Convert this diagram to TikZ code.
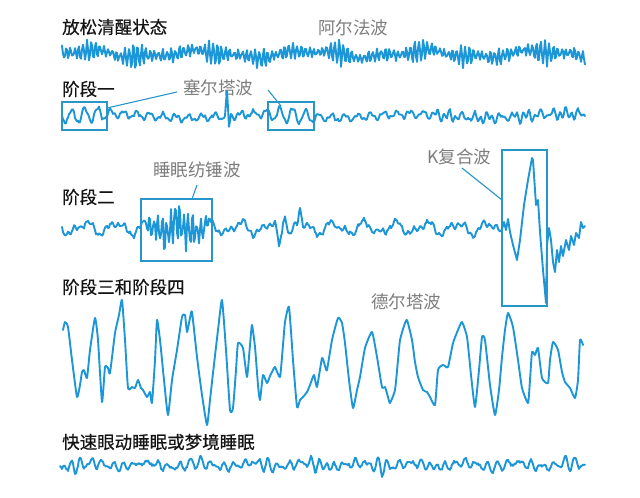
\documentclass[tikz,border=0pt]{standalone}
\usepackage{fontspec}
\newfontfamily\cjk{Noto Sans CJK SC}
\newfontfamily\cjkb{Noto Sans CJK SC}[FakeBold=0.5]
\usetikzlibrary{calc}
\definecolor{wave}{RGB}{28,150,214}
\definecolor{boxc}{RGB}{40,150,200}
\definecolor{anno}{RGB}{125,125,125}
\definecolor{lab}{RGB}{20,20,20}
\begin{document}
\begin{tikzpicture}[x=1pt,y=-1pt,
  declare function={
    sw(\tq,\pq)=sin(mod(\tq,\pq)*(360/\pq));
    bp(\tq,\cq,\wq)=max(0,1-((\tq-\cq)/\wq)^2);
    tri(\tq,\cq,\wq)=max(0,1-abs(\tq-\cq)/\wq);
  },
  stagelabel/.style={anchor=west,inner sep=0pt,text=lab,font=\cjkb\fontsize{17.5}{20}\selectfont},
  annolabel/.style={anchor=west,inner sep=0pt,text=anno,font=\cjk\fontsize{17.5}{20}\selectfont},
  trace/.style={draw=wave,line width=1.9pt,line join=round,line cap=round},
  wbox/.style={draw=boxc,line width=1.2pt,inner sep=0pt,rectangle},
  leader/.style={draw=boxc,line width=1.1pt}]
\path[use as bounding box] (0,0) rectangle (640,498);
\pgfmathsetseed{4711}

% labels
\node[stagelabel] (t0) at (62,27) {放松清醒状态};
\node[annolabel] (a0) at (318,28) {阿尔法波};
\node[stagelabel] (t1) at (62,89) {阶段一};
\node[annolabel] (a1) at (183,88) {塞尔塔波};
\node[stagelabel] (t2) at (62,197) {阶段二};
\node[annolabel] (a2) at (153,170) {睡眠纺锤波};
\node[annolabel] (a3) at (427,157) {K复合波};
\node[stagelabel] (t3) at (62,287) {阶段三和阶段四};
\node[annolabel] (a4) at (371,302) {德尔塔波};
\node[stagelabel] (t4) at (62,442) {快速眼动睡眠或梦境睡眠};

% alpha
\draw[trace] plot[domain=62:585,samples=524]
  (\x,{54+3*sw(\x,113)+1.5*sw(\x+30,47)+(3.5+9*(0.5+0.5*sw(\x,41))*(0.6+0.4*sw(\x+9,67)))*sw(\x,4.2)+1.5*sw(\x+2,2.9)+1.5*rand});

% stage 1
\draw[trace] plot[domain=62:585,samples=524]
  (\x,{116+2*sw(\x,150)+(3+4.5*bp(\x,85,30)+4.5*bp(\x,291,30))*sw(\x+3,13)+1.5*sw(\x,5.3)+3*max(0,min(1,(\x-410)/20))*sw(\x,6.1)+1*rand-20*tri(\x,227,2)+12*tri(\x,229,2)});

% stage 2
\draw[trace] plot[domain=62:502,samples=441]
  (\x,{228+5*sw(\x,31)+3*sw(\x+7,17)+2*sw(\x,6.3)+1.2*rand+16*bp(\x,177,36)*sw(\x,4.3)+6*bp(\x,177,36)*sw(\x+1,2.7)+18*tri(\x,279,4)-22*tri(\x,285,3)-16*tri(\x,300,3)})
  -- (504,222) -- (506,230) -- (508,219) -- (510,232) -- (513,245) -- (517,260) -- (520,240)
  -- (524,205) -- (528,180) -- (532,158) -- (533,160) -- (535,190) -- (536,205) -- (538,200)
  -- (540,232) -- (543,270) -- (546,303) -- (547,245) -- (549,228) -- (551,240) -- (553,262)
  -- (555,272) -- (557,250) -- (559,262) -- (561,246) -- (563,256) -- (566,240) -- (569,250)
  -- (571,236) -- (574,245) -- (576,233) -- (579,238) -- (581,222) -- (583,228) -- (585,226);

% stages 3 and 4 (delta)
\draw[trace] plot[smooth,tension=0.3] coordinates {
(63,330) (65,322) (68,327) (72,360) (77,397) (80,385) (82,372) (84,370) (87,378) (90,350)
(95,318) (98,340) (102,402) (105,367) (108,368) (110,373) (115,333) (119,315) (122,300)
(125,340) (128,388) (132,387) (135,388) (138,380) (141,388) (143,390) (147,397) (150,392)
(152,403) (155,360) (157,320) (160,340) (164,380) (168,415) (172,380) (177,350) (182,317)
(185,315) (187,332) (190,318) (192,312) (197,357) (202,395) (207,425) (210,400) (213,373)
(218,330) (222,300) (226,350) (230,410) (233,408) (236,370) (238,343) (243,348) (247,377)
(250,345) (252,325) (255,347) (258,385) (260,400) (263,375) (267,383) (270,376) (272,372)
(275,367) (280,377) (283,345) (285,322) (289,307) (293,360) (297,407) (300,400) (303,397)
(307,392) (310,385) (314,375) (317,387) (322,358) (325,366) (327,370) (332,340) (338,318)
(342,323) (345,343) (349,380) (353,408) (357,390) (360,377) (365,348) (372,332) (377,357)
(382,387) (385,387) (388,397) (390,403) (395,390) (398,360) (400,340) (404,326) (407,320)
(412,340) (415,362) (418,377) (423,390) (427,392) (430,397) (435,405) (438,370) (443,365)
(448,367) (453,343) (458,330) (462,322) (467,337) (471,375) (475,407) (479,370) (482,337)
(485,340) (490,385) (495,415) (499,390) (502,357) (505,330) (508,313) (513,327) (518,360)
(522,388) (528,403) (530,380) (532,352) (535,355) (538,348) (542,378) (548,383) (550,360)
(553,342) (558,350) (562,372) (565,382) (570,388) (575,398) (578,380) (580,340) (583,345)};

% REM
\draw[trace] plot[domain=60:585,samples=526]
  (\x,{465+2*sw(\x,53)+3*sw(\x+5,11)+2*sw(\x,7.3)+1.2*rand+5*max(0,sw(\x,61))*sw(\x+2,8.5)});

% boxes
\node[wbox,minimum width=45pt,minimum height=28pt] (b1) at (84.5,116) {};
\node[wbox,minimum width=46pt,minimum height=28pt] (b2) at (291,116) {};
\node[wbox,minimum width=71pt,minimum height=62pt] (b3) at (176.5,230) {};
\node[wbox,minimum width=45pt,minimum height=156pt] (b4) at (524.5,228) {};

% leaders
\coordinate (l1a) at (107,108);
\coordinate (l1b) at (177,92);
\coordinate (l2a) at (268,90);
\coordinate (l2b) at (281,106);
\coordinate (l3a) at (192,199);
\coordinate (l3b) at (197,185);
\coordinate (l4a) at (462,168);
\coordinate (l4b) at (502,200);
\draw[leader] (l1a) -- (l1b);
\draw[leader] (l2a) -- (l2b);
\draw[leader] (l3a) -- (l3b);
\draw[leader] (l4a) -- (l4b);
\end{tikzpicture}
\end{document}
